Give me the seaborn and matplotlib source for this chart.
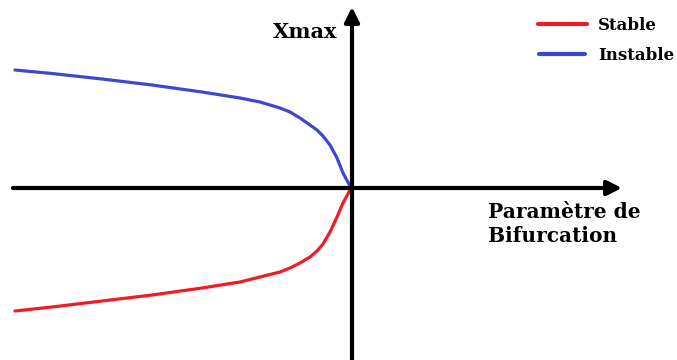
import numpy as np
import pandas as pd
import matplotlib
matplotlib.use("Agg")
import matplotlib.pyplot as plt
import seaborn as sns

sns.set_style("white")
plt.rcParams['font.family'] = ['DejaVu Serif']

# parametre de bifurcation (mu) et Xmax
mu = [-3.37, -3.0, -2.5, -2.0, -1.5, -1.12, -0.92, -0.72, -0.62, -0.52, -0.42,
      -0.35, -0.29, -0.22, -0.15, -0.09, -0.02, 0.0]
xmax_instable = [1.18, 1.145, 1.09, 1.03, 0.96, 0.90, 0.86, 0.80, 0.76, 0.70, 0.63,
                 0.58, 0.52, 0.43, 0.30, 0.15, 0.02, 0.0]
xmax_stable = [-1.23, -1.19, -1.13, -1.07, -1.00, -0.94, -0.89, -0.84, -0.80, -0.75, -0.69,
               -0.63, -0.56, -0.44, -0.29, -0.15, -0.02, 0.0]

df = pd.DataFrame({
    "mu": mu * 2,
    "xmax": xmax_stable + xmax_instable,
    "branche": ["Stable"] * len(mu) + ["Instable"] * len(mu),
})

fig = plt.figure(figsize=(6.77, 3.6), dpi=100)
ax = fig.add_axes([0, 0, 1, 1])
ax.set_xlim(-3.52, 3.25)
ax.set_ylim(-1.72, 1.88)
ax.axis('off')

# axes avec fleches
ax.annotate('', xy=(2.70, 0), xytext=(-3.39, 0),
            arrowprops=dict(arrowstyle='-|>', lw=3, color='black', mutation_scale=22, shrinkA=0, shrinkB=0))
ax.annotate('', xy=(0, 1.81), xytext=(0, -1.75),
            arrowprops=dict(arrowstyle='-|>', lw=3, color='black', mutation_scale=22, shrinkA=0, shrinkB=0))

sns.lineplot(data=df, x="mu", y="xmax", hue="branche", sort=False,
             palette={"Stable": "#EE1C25", "Instable": "#3F48CC"}, lw=2.3, ax=ax, legend=False)
for line in ax.lines:
    line.set_solid_joinstyle('round')

bold = dict(fontweight='bold', color='black')
ax.text(-0.79, 1.56, "Xmax", ha='left', va='center', fontsize=15, **bold)
ax.text(1.36, -0.36, "Paramètre de\nBifurcation", ha='left', va='center',
        linespacing=1.25, fontsize=14.5, **bold)

# legende
ax.plot([1.86, 2.35], [1.64, 1.64], color="#EE1C25", lw=3, solid_capstyle='round')
ax.plot([1.87, 2.33], [1.34, 1.34], color="#3F48CC", lw=3, solid_capstyle='round')
ax.text(2.46, 1.62, "Stable", ha='left', va='center', fontsize=12, **bold)
ax.text(2.46, 1.32, "Instable", ha='left', va='center', fontsize=12, **bold)

plt.savefig("out.png", dpi=100)
